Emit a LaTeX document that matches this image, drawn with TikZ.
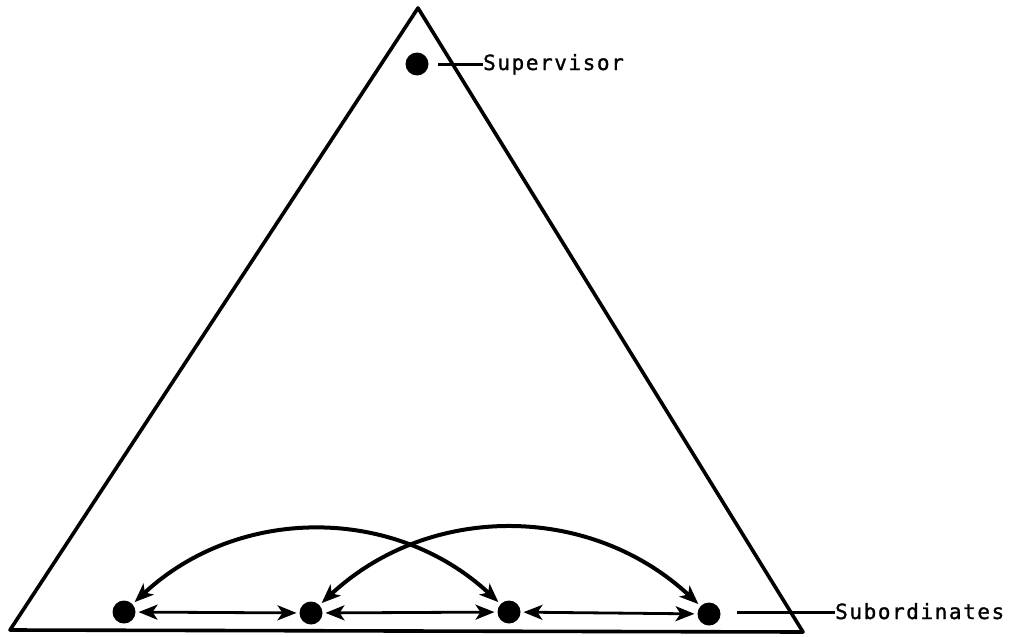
\documentclass[tikz,border=0pt]{standalone}
\usepackage{fontspec}
\newfontfamily\labelfont[LetterSpace=7.5,FakeBold=1.2]{DejaVu Sans Mono}
\usetikzlibrary{arrows.meta,positioning}

\begin{document}
\begin{tikzpicture}[x=1pt,y=-1pt,>={Stealth[length=19pt,width=15pt,inset=5pt]},
  dot/.style={circle,fill,inner sep=0pt,minimum size=23pt,outer sep=3pt},
  lbl/.style={inner sep=0pt,font=\labelfont\fontsize{21}{25}\selectfont}]
\useasboundingbox (0,0) rectangle (1020,637);
% the triangle
\draw[line width=3.6pt,line join=round] (418,8)--(10,630)--(803,632)--cycle;
% people
\node[dot] (sup) at (417,64) {};
\node[dot] (s1) at (124,612) {};
\node[dot] (s2) at (311,613) {};
\node[dot] (s3) at (509,612) {};
\node[dot] (s4) at (709,614) {};
% labels
\node[lbl,anchor=base west] (suplabel) at (483,70) {Supervisor};
\node[lbl,anchor=base west] (sublabel) at (835,619) {Subordinates};
\coordinate (supleader) at (438,64);
\coordinate (subleader) at (737,612);
\draw[line width=3pt] (supleader)--(suplabel.west|-supleader);
\draw[line width=3pt] (subleader)--(sublabel.west|-subleader);
% communication between subordinates
\draw[<->,line width=2.8pt] (s1)--(s2);
\draw[<->,line width=2.8pt] (s2)--(s3);
\draw[<->,line width=2.8pt] (s3)--(s4);
\draw[<->,line width=4pt] (s1) to[out=43,in=137] (s3);
\draw[<->,line width=4pt] (s2) to[out=43,in=137] (s4);
\end{tikzpicture}
\end{document}
